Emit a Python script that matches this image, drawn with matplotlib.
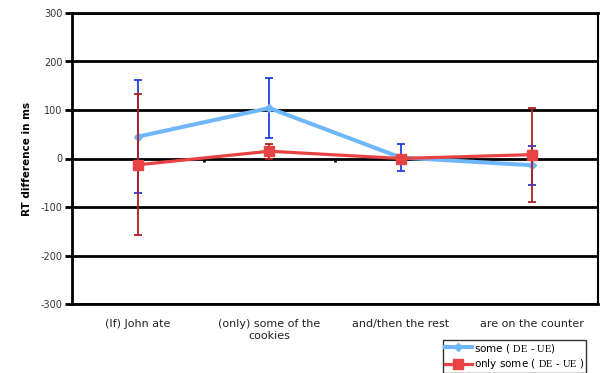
import matplotlib
matplotlib.use("Agg")
import matplotlib.pyplot as plt
import numpy as np

categories = ["(If) John ate", "(only) some of the\ncookies", "and/then the rest", "are on the counter"]
some_vals = [45, 104, 2, -14]
some_err = [116, 62, 28, 40]
only_vals = [-13, 15, 0, 8]
only_err = [145, 15, 0, 97]
yticks = [-300, -200, -100, 0, 100, 200, 300]

plt.rcParams['mathtext.fontset'] = 'custom'
plt.rcParams['mathtext.rm'] = 'Liberation Serif'
plt.rcParams['font.family'] = ['DejaVu Sans']

fig = plt.figure(figsize=(6.05, 3.73), dpi=100)
ax = fig.add_axes([72/605, 1-304/373, (598-72)/605, (304-13)/373])

x = np.arange(len(categories))
ax.set_xlim(-0.5, len(categories)-0.5)
ax.set_ylim(-300, 300)

for yv in yticks:
    ax.axhline(yv, color='black', lw=2.0, zorder=1)

# boundary ticks on the zero axis
ax.vlines(np.arange(len(categories)-1)+0.5, -8, 0, color='black', lw=2.0, zorder=1)

ax.errorbar(x, some_vals, yerr=some_err, fmt='none', ecolor='#1f3fe0', elinewidth=1.3,
            capsize=2.8, capthick=1.3, zorder=3)
ax.plot(x, some_vals, color='#6fb7fb', lw=2.9, marker='D', markersize=4.5,
        markerfacecolor='#6fb7fb', markeredgecolor='#6fb7fb', zorder=4,
        label=r'some ( $\mathrm{DE\ \text{-}\ UE}$)')
ax.errorbar(x, only_vals, yerr=only_err, fmt='none', ecolor='#b22020', elinewidth=1.3,
            capsize=2.8, capthick=1.3, zorder=5)
ax.plot(x, only_vals, color='#e84343', lw=2.3, marker='s', markersize=6.5,
        markerfacecolor='#e84343', markeredgecolor='#e84343', zorder=6,
        label=r'only some ( $\mathrm{DE\ \text{-}\ UE}$ )')

ax.set_yticks(yticks)
ax.set_yticklabels([str(v) for v in yticks], fontsize=7, color='#333333')
ax.tick_params(axis='y', length=5, width=2.0, direction='out', pad=2, color='black')
ax.set_xticks(x)
ax.set_xticklabels(categories, fontsize=8, color='#222222')
ax.tick_params(axis='x', length=0, pad=11)

for s in ['left', 'bottom', 'top']:
    ax.spines[s].set_linewidth(2.0)
    ax.spines[s].set_color('black')
ax.spines['right'].set_linewidth(1.5)
ax.spines['right'].set_color('black')

ax.set_ylabel('RT difference in ms', fontsize=7.5, fontweight='bold', labelpad=6)

leg = fig.legend(loc='upper left', bbox_to_anchor=(443/605, 1-340/373), borderaxespad=0,
                 fontsize=7.5, frameon=True, fancybox=False, edgecolor='black',
                 handlelength=2.6, handletextpad=0.2, borderpad=0.15, labelspacing=0.25)
leg.get_frame().set_linewidth(1.0)

fig.savefig('out.png', dpi=100)
